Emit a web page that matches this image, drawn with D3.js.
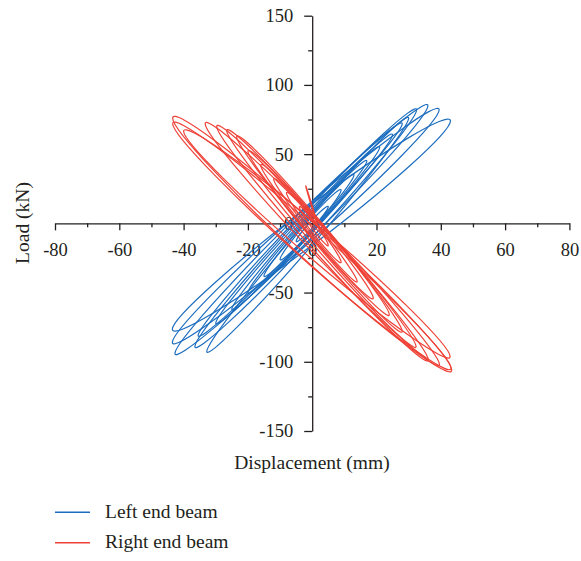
<!DOCTYPE html>
<html><head><meta charset="utf-8">
<script src="https://cdn.jsdelivr.net/npm/d3@7"></script>
<style>
body{margin:0;background:#fff}
svg{display:block}
text{font-family:"Liberation Serif","Times New Roman",serif;fill:#231f20}
</style>
</head><body>
<svg id="chart" width="581" height="561"></svg>
<script>
// ---- data ----
const xTicks = [-80, -60, -40, -20, 0, 20, 40, 60, 80];
const xMinor = [-70, -50, -30, -10, 10, 30, 50, 70];
const yTicks = [-150, -100, -50, 0, 50, 100, 150];
const yMinor = [-125, -75, -25, 25, 75, 125];
const seriesNames = ["Left end beam", "Right end beam"];
const seriesColors = ["#1c6dbf", "#ef4136"];

// Left end beam: each loop = reversal points (min / max displacement) + half gap between branches (kN)
const leftMinDisp = [-43.5, -43.5, -42.7, -36.5, -32.8, -35.5, -30, -25, -20, -15, -10, -5];
const leftMinLoad = [-76.5, -86, -94, -89, -92.6, -81, -72, -62, -50, -38, -26, -13];
const leftMaxDisp = [43, 39.5, 36, 32.5, 30, 28, 25, 21, 17, 13, 9, 5];
const leftMaxLoad = [74, 82, 85, 82, 76, 72, 64, 55, 45, 35, 24, 12];
const leftGap = [15, 14, 13, 12, 11, 10, 9, 8, 7, 6, 5, 3];

// Right end beam
const rightMinDisp = [-43.4, -43.4, -40, -33.3, -29.7, -26.6, -23.5, -20, -16, -12, -8, -4, -2];
const rightMinLoad = [76, 72, 66.5, 72, 70, 67, 62.6, 52, 42, 32, 22, 12, 27];
const rightMaxDisp = [43.4, 43.2, 42.9, 39.6, 36.1, 32.3, 28, 24, 19, 14, 9, 5, 1.5];
const rightMaxLoad = [-106, -104.6, -96.2, -102, -98.6, -89, -78, -66, -54, -42, -28, -16, 0];
const rightGap = [16, 15, 14, 13, 12, 11, 10, 9, 8, 6, 5, 3, 1];

// ---- layout ----
const svg = d3.select("#chart");
const x = d3.scaleLinear().domain([-80, 80]).range([55, 569.4]);
const y = d3.scaleLinear().domain([-150, 150]).range([431, 15.7]);
const axisColor = "#231f20";
const fs = 18.5;

// axes
const fmt = d => String(d);
const gx = svg.append("g").attr("transform", `translate(0,${y(0)})`)
  .call(d3.axisBottom(x).tickValues(xTicks).tickSize(7).tickSizeOuter(0).tickPadding(13).tickFormat(fmt));
const gxm = svg.append("g").attr("transform", `translate(0,${y(0)})`)
  .call(d3.axisBottom(x).tickValues(xMinor).tickSize(4).tickFormat(""));
gxm.select(".domain").remove();
const gy = svg.append("g").attr("transform", `translate(${x(0)},0)`)
  .call(d3.axisLeft(y).tickValues(yTicks).tickSize(8).tickSizeOuter(0).tickPadding(11).tickFormat(fmt));
const gym = svg.append("g").attr("transform", `translate(${x(0)},0)`)
  .call(d3.axisLeft(y).tickValues(yMinor).tickSize(4).tickFormat(""));
gym.select(".domain").remove();
[gx, gxm, gy, gym].forEach(g => {
  g.selectAll("path,line").attr("stroke", axisColor).attr("stroke-width", 1.3);
  g.selectAll("text").attr("font-size", fs).attr("font-family", '"Liberation Serif",serif').attr("fill", axisColor);
});

// axis titles
svg.append("text").attr("x", 312).attr("y", 469).attr("text-anchor", "middle")
  .attr("font-size", 19.5).text("Displacement (mm)");
svg.append("text").attr("transform", "translate(29,223) rotate(-90)").attr("text-anchor", "middle")
  .attr("font-size", 19.5).text("Load (kN)");

// loops
const line = d3.line().x(d => x(d[0])).y(d => y(d[1])).curve(d3.curveCardinalClosed.tension(-0.6));
function loops(minD, minL, maxD, maxL, gap) {
  return minD.map((d, i) => {
    const mx = (minD[i] + maxD[i]) / 2, my = (minL[i] + maxL[i]) / 2;
    return [[minD[i], minL[i]], [mx, my - gap[i]], [maxD[i], maxL[i]], [mx, my + gap[i]]];
  });
}
const leftLoops = loops(leftMinDisp, leftMinLoad, leftMaxDisp, leftMaxLoad, leftGap);
const rightLoops = loops(rightMinDisp, rightMinLoad, rightMaxDisp, rightMaxLoad, rightGap);

svg.append("g").selectAll("path").data(leftLoops).join("path")
  .attr("d", line).attr("fill", "none").attr("stroke", seriesColors[0]).attr("stroke-width", 1.2);
svg.append("g").selectAll("path").data(rightLoops).join("path")
  .attr("d", line).attr("fill", "none").attr("stroke", seriesColors[1]).attr("stroke-width", 1.2);

// legend
const lg = svg.append("g");
seriesNames.forEach((n, i) => {
  const yy = 512.3 + i * 30.5;
  lg.append("line").attr("x1", 55).attr("x2", 90).attr("y1", yy).attr("y2", yy)
    .attr("stroke", seriesColors[i]).attr("stroke-width", 1.4);
  lg.append("text").attr("x", 105).attr("y", yy + 5.5).attr("font-size", 19.5).text(n);
});
</script>
</body></html>
